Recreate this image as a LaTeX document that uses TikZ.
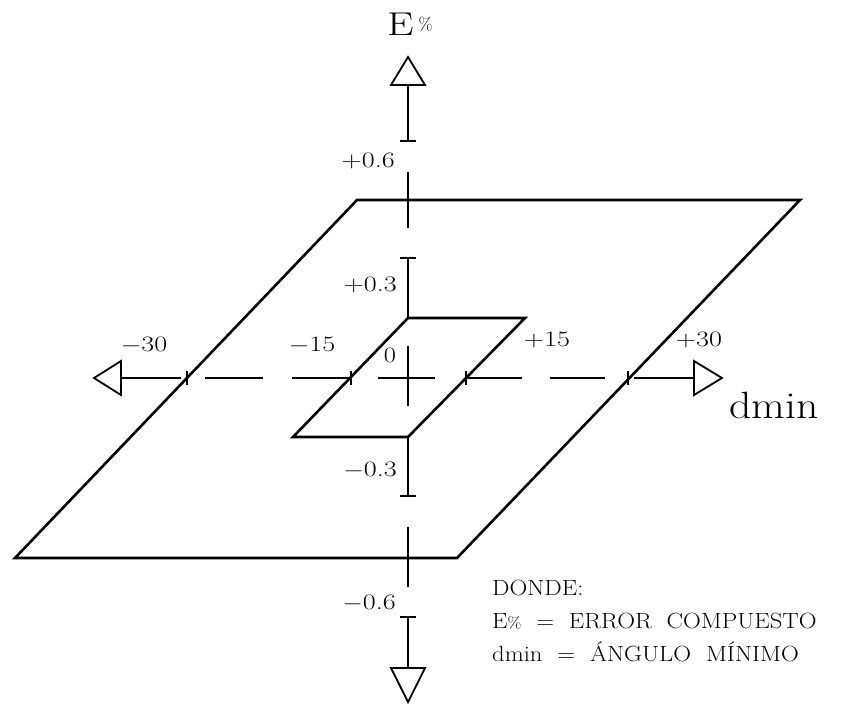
\documentclass[tikz,border=0pt]{standalone}
\usepackage{fontspec}
\newcommand{\wide}[2]{\scalebox{#1}[1]{#2}}
\begin{document}
\begin{tikzpicture}[x=1pt,y=-1pt,
  plane/.style={line width=2.6pt,line join=miter},
  ax/.style={line width=1.8pt},
  tri/.style={line width=1.8pt,line join=miter},
  lab/.style={inner sep=0pt,font=\fontsize{22}{22}\selectfont},
  leg/.style={inner sep=0pt,anchor=base west,font=\fontsize{22}{22}\selectfont}]
\useasboundingbox (0,0) rectangle (853,705);
% planes
\coordinate (O1) at (15,558);  \coordinate (O2) at (457,558);
\coordinate (O3) at (800,200); \coordinate (O4) at (357,200);
\coordinate (I1) at (293,437); \coordinate (I2) at (408,437);
\coordinate (I3) at (525,318); \coordinate (I4) at (408,318);
\draw[plane] (O1) -- (O2) -- (O3) -- (O4) -- cycle;
\draw[plane] (I1) -- (I2) -- (I3) -- (I4) -- cycle;
% vertical axis
\coordinate (vt) at (408,57);
\draw[tri] (vt) -- (391,85) -- (425,85) -- cycle;
\draw[ax] (408,85) -- (408,141) (400,141) -- (416,141);
\draw[ax] (408,172) -- (408,228);
\draw[ax] (400,258) -- (416,258) (408,258) -- (I4);
\draw[ax] (408,346) -- (408,406);
\draw[ax] (I2) -- (408,496) (400,496) -- (416,496);
\draw[ax] (408,527) -- (408,587);
\draw[ax] (400,617) -- (416,617) (408,617) -- (408,668);
\coordinate (vb) at (408,702);
\draw[tri] (vb) -- (391,668) -- (425,668) -- cycle;
% horizontal axis
\coordinate (hl) at (94,378);
\draw[tri] (hl) -- (121,361) -- (121,395) -- cycle;
\draw[ax] (121,378) -- (181,378) (187,371) -- (187,385);
\draw[ax] (205,378) -- (263,378);
\draw[ax] (292,378) -- (351,378) (351,371) -- (351,385);
\draw[ax] (378,378) -- (435,378);
\draw[ax] (466,378) -- (522,378) (466,371) -- (466,385);
\draw[ax] (550,378) -- (605,378);
\draw[ax] (634,378) -- (694,378) (628,371) -- (628,385);
\coordinate (hr) at (722,378);
\draw[tri] (hr) -- (694,361) -- (694,395) -- cycle;
% labels
\node[inner sep=0pt,anchor=base west] (lE) at (387,35) {\fontsize{33}{33}\selectfont\wide{1.28}{E}\hspace{5pt}\raisebox{5pt}{\fontsize{18}{18}\selectfont\%}};
\node[lab,anchor=east] (p6) at (395,161) {\wide{1.28}{+0.6}};
\node[lab,anchor=east] (p3) at (397,285) {\wide{1.28}{+0.3}};
\node[lab,anchor=east] (m3) at (397,470) {\wide{1.28}{$-$0.3}};
\node[lab,anchor=east] (m6) at (396,603) {\wide{1.28}{$-$0.6}};
\node[lab] (m30) at (144,345) {\wide{1.28}{$-$30}};
\node[lab] (m15) at (312,345) {\wide{1.28}{$-$15}};
\node[lab] (z0) at (390,355) {\wide{1.2}{0}};
\node[lab] (p15) at (547,340) {\wide{1.28}{+15}};
\node[lab] (p30) at (699,340) {\wide{1.28}{+30}};
\node[inner sep=0pt,font=\fontsize{38}{38}\selectfont] (dm) at (774,405) {\wide{1.15}{dmin}};
% legend
\node[leg] (g1) at (492,595) {\wide{1.12}{DONDE:}};
\node[leg] (g2) at (492,628) {\wide{1.12}{E{\fontsize{16}{16}\selectfont\%}\ \ =\ \ ERROR\ \ COMPUESTO}};
\node[leg] (g3) at (492,661) {\wide{1.12}{dmin\ \ =\ \ ÁNGULO\ \ MÍNIMO}};
\end{tikzpicture}
\end{document}
